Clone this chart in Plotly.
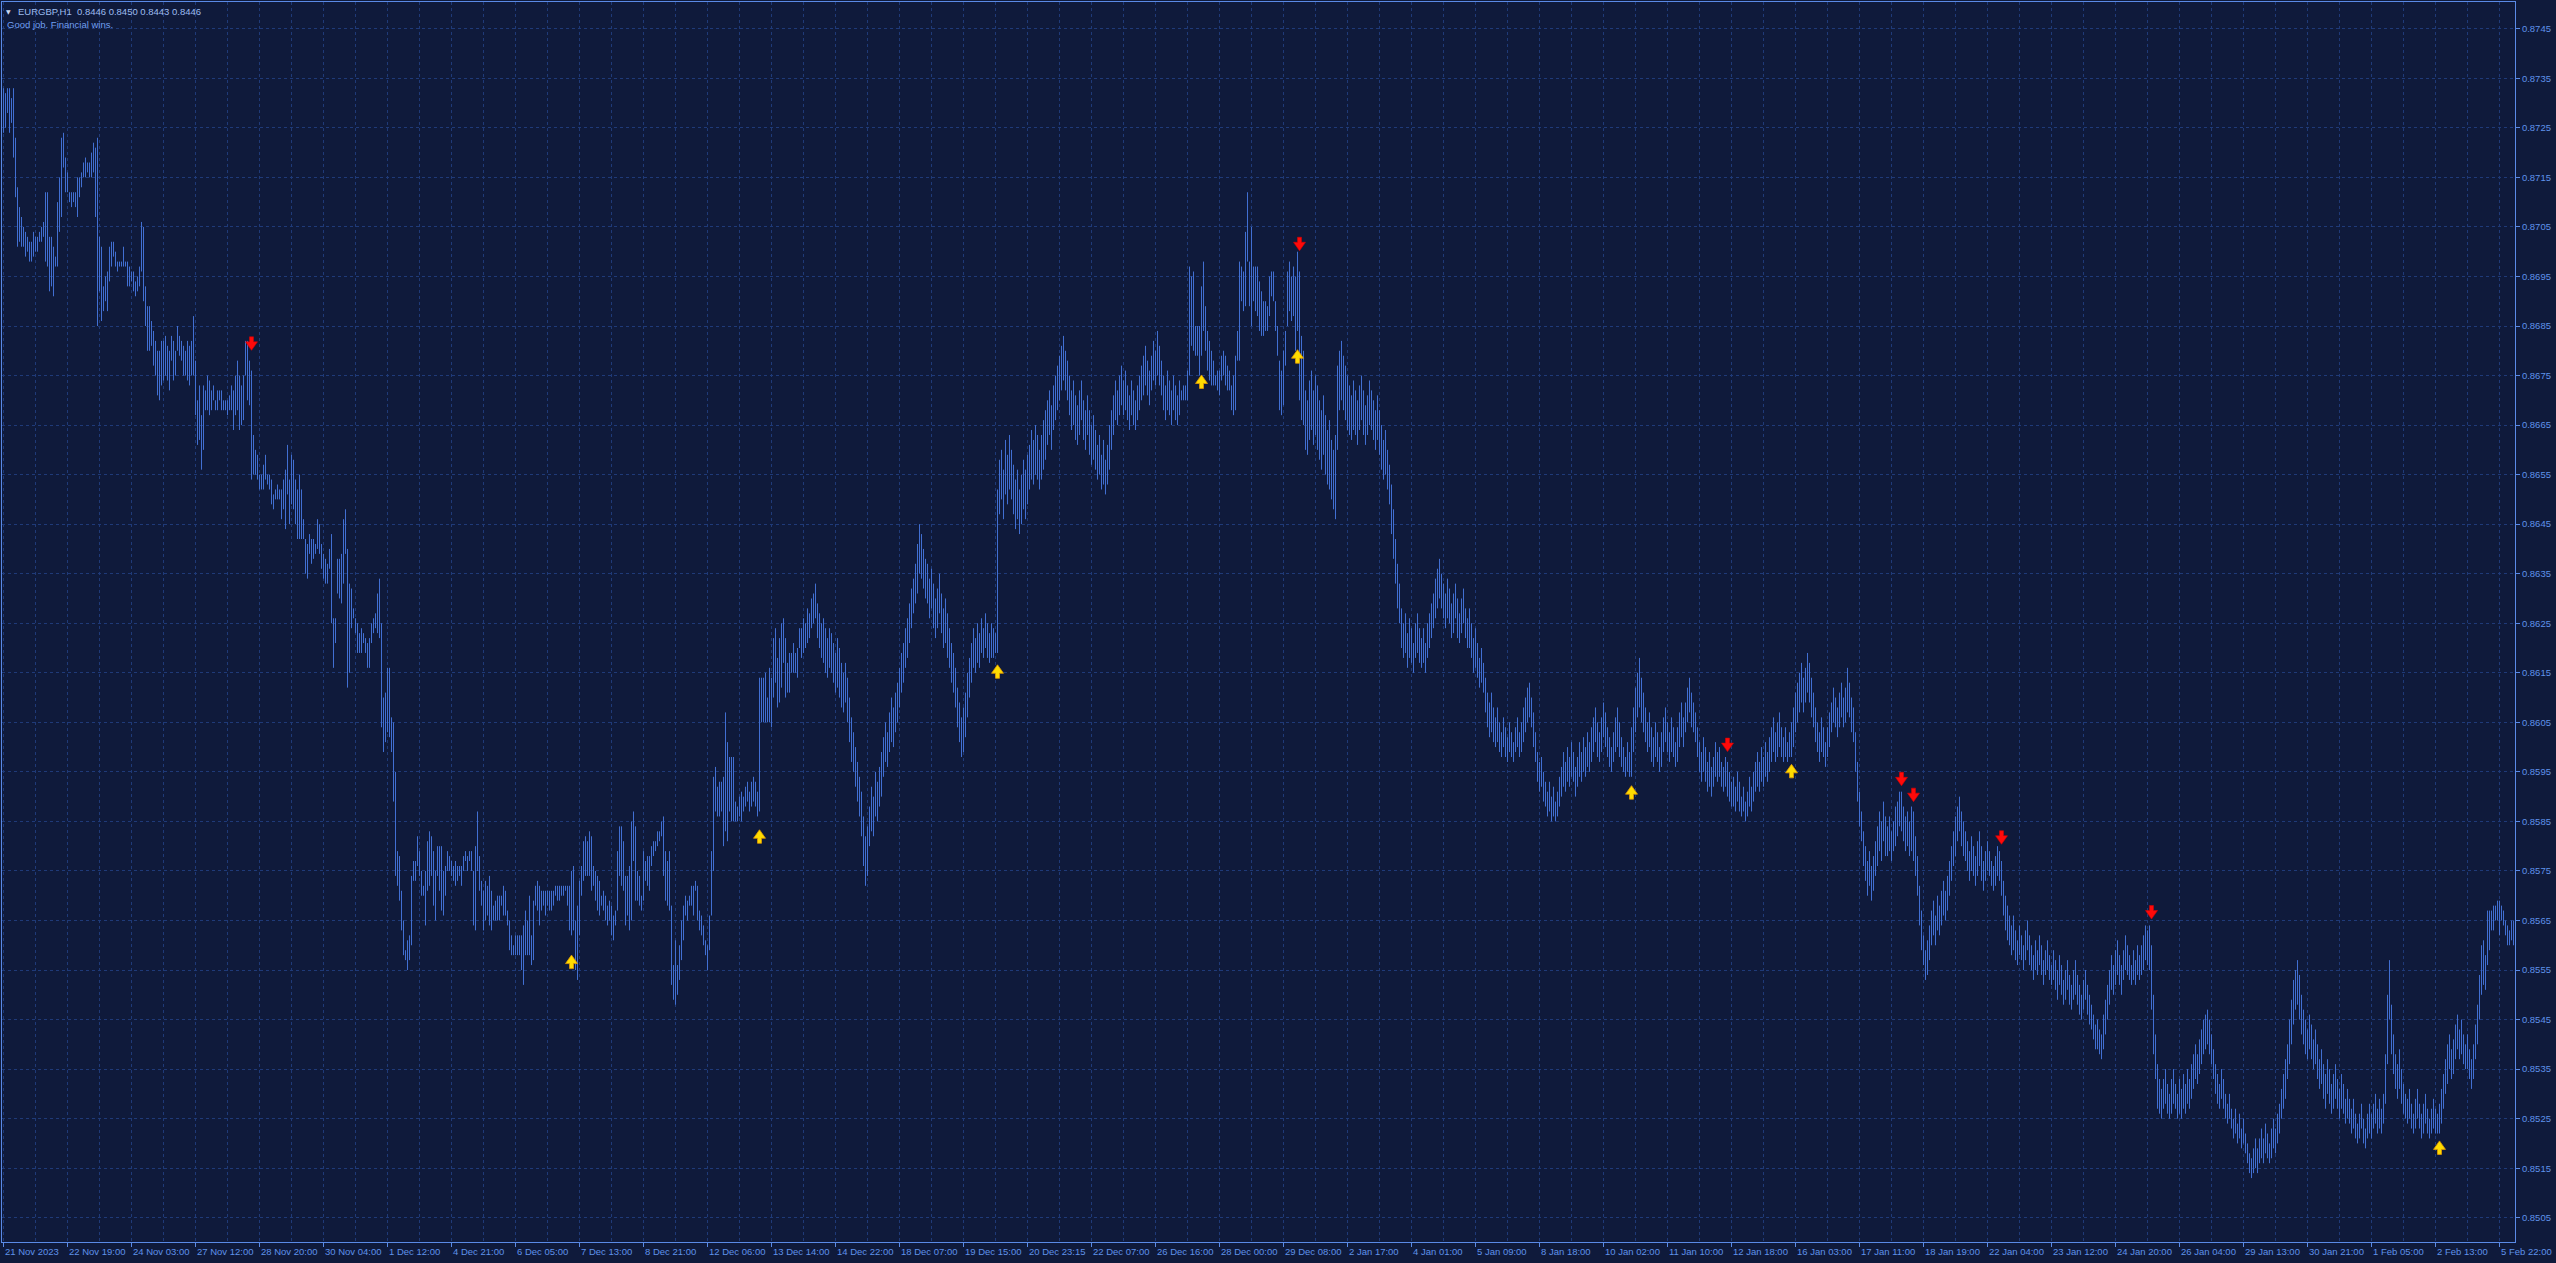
import plotly.graph_objects as go

BASE = 0.85  # prices below are in points (0.0001) above 0.8500

# Hourly bars 0..398 (21 Nov - 12 Dec): high / low in points
high_early = [
233,232,233,233,231,233,223,213,209,207, 205,204,203,202,202,204,203,203,204,205,
206,212,212,203,203,201,199,210,215,223, 224,219,216,212,212,212,212,215,215,216,
218,219,218,218,220,222,221,223,203,201, 193,195,196,201,202,202,200,198,198,198,
201,198,198,197,196,196,194,195,197,206, 205,193,189,189,186,184,182,180,180,182,
182,183,181,180,183,182,180,185,183,182, 181,180,182,181,182,187,178,170,173,167,
173,172,175,174,172,173,170,172,172,172, 170,170,170,171,173,172,175,178,175,173,
175,182,182,178,176,163,160,159,155,155, 157,159,155,155,154,151,152,153,152,152,
154,156,161,154,159,158,154,152,155,152, 146,142,141,143,142,142,141,146,145,141,
139,138,137,140,143,126,126,138,138,139, 146,148,140,133,132,128,126,125,123,124,
123,122,121,122,125,126,127,131,134,125, 110,111,116,116,106,105,95,79,78,71,
65,59,61,62,74,77,77,82,79,75, 72,75,81,83,82,79,75,80,80,80,
75,76,79,78,77,76,77,76,76,76, 78,79,78,79,79,75,80,87,78,73,
71,73,72,74,71,68,69,70,70,70, 72,71,67,65,62,60,62,62,62,62,
64,67,65,70,62,69,72,73,72,71, 71,71,71,71,71,71,72,72,72,72,
72,72,72,72,75,76,65,68,73,76, 81,82,81,83,82,76,75,74,73,70,
71,70,68,69,68,66,67,79,84,84, 81,74,74,76,85,87,84,75,74,70,
79,77,78,78,80,81,81,83,83,85, 86,79,77,79,68,56,61,56,60,65,
68,70,69,70,72,72,73,72,67,66, 64,61,60,66,79,94,96,92,93,93,
94,107,101,98,98,98,89,88,90,91, 90,92,93,91,93,94,93,91,114,114,
114,115,110,116,114,122,124,118,122,125, 126,122,117,119,119,121,119,120,124,
]
low_early = [
224,225,228,224,226,219,211,201,202,201, 201,199,200,198,198,199,200,200,202,202,
203,198,197,192,193,191,197,197,204,207, 217,212,212,210,209,210,209,207,211,213,
215,215,216,215,215,216,207,185,192,186, 188,190,188,194,197,199,197,196,197,197,
197,197,193,193,194,192,191,192,193,196, 190,185,180,180,181,177,175,171,170,173,
174,175,174,172,178,174,175,180,179,178, 175,175,174,173,175,175,167,161,162,156,
160,168,168,167,168,170,168,168,170,168, 168,168,167,168,168,164,167,168,164,165,
166,175,170,169,154,155,155,154,152,152, 152,154,153,152,149,148,150,150,150,146,
148,144,151,145,149,148,145,142,142,142, 142,135,134,139,137,138,139,140,139,136,
134,133,133,136,125,116,121,131,130,129, 133,139,112,115,124,126,123,119,119,119,
121,119,116,116,121,123,124,123,122,104, 99,101,103,102,99,89,74,72,69,63,
58,57,55,57,60,73,73,76,74,70, 70,64,71,72,74,68,65,74,71,67,
66,70,75,75,74,73,72,73,74,72, 75,77,75,77,75,64,63,75,71,68,
63,65,66,64,63,65,65,65,65,68, 66,66,64,59,58,58,58,58,58,55,
52,58,58,58,56,57,68,67,64,67, 68,66,68,67,67,68,70,69,69,70,
70,71,68,63,62,63,55,53,62,70, 73,74,74,74,71,72,69,67,66,68,
67,65,64,65,62,61,64,67,74,72, 71,64,66,63,65,77,69,69,68,67,
69,73,72,71,76,78,79,80,81,82, 74,69,68,67,52,49,48,50,53,57,
61,66,65,68,68,66,71,65,63,62, 60,58,55,59,66,75,87,86,86,87,
80,83,81,87,85,85,85,85,86,85, 87,88,89,87,88,89,88,86,87,105,
105,105,105,105,104,110,113,108,109,112, 117,110,111,111,115,115,115,114,120,
]

# Hourly bars 399..1255 (12 Dec - 5 Feb): (high, low) in points
hl_late = [
(124,118),(126,119),(125,120),(128,121),(127,122),(130,124),(131,125),(133,126),
(129,122),(127,120),(125,118),(126,117),(124,115),(122,114),(124,116),(123,115),
(121,113),(119,111),(122,112),(120,110),(117,108),(115,107),(117,109),(114,105),
(110,101),(106,97),(103,95),(100,92),(97,89),(94,86),(91,82),
(86,76),(82,72),(84,74),
(88,80),(92,83),(90,82),(95,86),(93,85),(96,88),(99,90),
(102,94),(105,97),(103,96),(107,99),(110,101),(108,100),(111,103),(113,105),
(116,108),(119,111),(121,113),(124,116),(126,118),
(129,121),(132,124),(134,127),(137,129),(141,131),
(145,135),(143,134),(140,132),(138,130),
(137,129),(134,126),(136,128),(133,124),(130,122),(132,124),(135,127),(131,123),(128,120),
(130,121),(127,118),(124,116),(121,113),(119,111),(116,108),
(112,104),(109,101),(106,98),(108,99),(111,102),
(115,106),(118,110),(121,113),(124,116),(122,115),(125,117),(123,116),
(126,119),(124,118),(127,120),(125,118),(123,117),(125,118),
(124,118),(123,119),
(152,119),
(158,147),(160,150),(156,146),(162,151),(159,149),(163,152),(160,150),
(157,147),(154,144),(156,146),(152,143),(155,145),(158,148),(156,146),(159,149),
(161,152),(164,154),(162,153),(165,155),(163,154),(160,152),(163,154),(166,156),
(168,158),(170,161),(172,163),(169,160),(173,164),(175,166),(177,168),(179,170),
(181,172),(183,174),(180,172),(178,170),
(175,167),(172,164),(174,165),(171,162),(169,161),(172,163),(174,166),(170,162),(168,160),(171,163),(168,159),(165,157),(167,158),
(164,156),(161,154),(163,155),(159,152),(162,153),(158,151),(161,153),(165,156),
(168,160),(171,163),(174,166),(172,165),(175,167),(177,169),(174,167),(176,168),
(173,166),(171,164),(174,167),(172,165),(170,164),(173,166),(175,168),(177,170),
(179,171),(181,173),(178,171),(176,169),(179,172),(182,174),(180,173),(184,175),(181,173),(178,171),
(175,168),(173,166),(176,168),(174,167),(172,165),(175,168),(173,166),(171,165),(174,167),
(172,170),(173,170),(173,170),(176,170),(197,175),(195,181),(196,180),(185,179),(185,179),(185,175),
(193,179),(198,184),(189,180),(184,176),(182,174),(180,173),(178,173),(175,173),(176,172),(176,171),
(179,174),(180,175),(179,173),(177,172),(176,172),(173,168),(175,167),(179,168),
(184,178),(198,178),(197,190),(196,188),(204,189),(212,198),(198,189),(205,185),(197,190),(197,188),
(197,187),(194,184),(192,183),(190,183),(190,184),(189,184),(195,187),(196,191),(196,190),(190,184),
(185,179),(178,168),(176,167),(180,169),(184,177),(196,185),(198,188),(195,186),(197,187),(195,180),
(200,184),(196,170),(183,166),(180,165),
(172,160),(170,159),(174,162),(176,164),(172,161),(175,163),(173,160),(170,158),(168,156),(171,159),
(167,155),(164,153),(166,152),(162,150),(160,148),(163,146),(177,160),(180,168),(182,170),(179,168),
(177,166),(175,164),
(173,163),(171,162),(174,164),(172,163),(170,161),(173,164),(175,166),(172,163),(169,161),(171,163),(174,165),(172,164),(170,162),(168,160),(171,162),
(168,159),(165,156),(162,154),(164,155),(160,152),(157,149),
(153,143),(148,138),(142,133),(137,128),(133,125),
(128,120),(125,118),(127,119),(123,116),(126,118),(124,117),(121,115),(125,118),(127,119),(124,117),
(122,116),(124,117),(121,115),(125,118),(127,120),(129,122),
(131,124),(134,126),(136,128),(138,130),(135,128),(133,126),
(131,124),(134,126),(132,125),(129,122),(131,123),(133,126),(130,122),(127,121),(130,123),(132,125),(128,122),(126,120),
(128,120),(125,118),(122,115),(124,116),(121,114),(118,112),(120,113),(117,111),
(114,107),(111,104),(109,102),(111,103),(108,101),(106,100),(108,101),
(105,99),(103,98),(106,100),(104,98),(102,97),(105,99),(103,98),(101,97),(104,99),(106,100),(103,98),(105,99),(108,101),
(110,103),(112,105),(113,106),(110,104),(107,100),(103,97),
(99,93),(97,91),(98,92),(95,89),(93,88),
(91,86),(93,87),(90,85),(92,86),(89,85),(91,86),(94,88),
(96,90),(99,92),(97,91),(100,93),(98,92),(101,94),(99,93),(96,90),(98,92),(101,94),(99,93),(102,95),(100,94),(103,96),(101,95),
(104,97),(106,99),(108,101),(105,98),(103,97),(106,99),(109,102),(107,100),(104,98),(102,96),(100,95),(103,97),
(106,99),(108,100),(105,98),(102,96),(100,95),(98,94),(101,95),(99,94),(104,94),
(108,99),(112,103),(115,106),(118,108),(114,105),(111,103),
(108,101),(105,99),(107,100),(104,97),(102,96),(105,98),(103,97),(100,95),(103,96),(106,99),
(108,101),(105,99),(103,97),(106,99),(104,98),(101,96),(104,97),(107,100),(109,102),(106,100),
(109,103),(112,105),(114,107),(111,104),(109,103),(107,101),
(104,98),(101,95),(99,93),(102,95),(100,93),(97,91),(99,92),(96,90),(98,92),(101,94),(99,93),(100,94),
(97,92),(96,91),(98,92),(97,90),(95,89),(93,88),
(94,88),(92,87),(95,89),(93,87),(90,86),(92,87),(89,85),(91,86),(94,88),(92,87),(95,89),
(97,91),(99,92),(97,91),(100,93),(98,92),(101,94),(99,93),(102,95),
(104,97),(106,99),(103,97),(105,98),(107,100),(104,98),(102,97),(104,98),(101,97),(103,98),
(105,98),(108,100),(111,103),
(113,105),(115,107),(117,109),(114,107),(116,109),(119,111),(117,109),(114,106),(111,104),
(108,101),(105,99),(103,97),(106,99),(104,98),(101,96),(104,98),(107,100),
(109,103),(112,105),(110,104),(108,102),(111,104),(113,106),(110,104),
(112,105),(116,107),(113,106),(110,103),(108,101),
(103,95),(97,89),(91,84),(87,81),
(83,76),(80,73),(77,70),(79,72),(76,69),(78,71),(81,74),
(84,76),(87,79),(85,77),(89,81),(86,78),
(84,78),(86,79),(83,77),(85,79),(88,80),
(89,82),(91,84),(91,83),(88,81),(86,79),(87,80),(85,78),(88,79),(87,77),(82,74),(78,70),
(72,64),(67,59),(62,56),(59,53),(61,54),
(64,57),(67,60),(69,62),(66,60),(70,63),(68,62),(71,64),(73,66),(71,65),(74,67),
(77,70),(80,73),(83,76),(86,78),(88,81),(90,83),(87,80),(85,78),(83,77),
(81,75),(79,73),(82,75),(80,74),(78,72),(81,74),(83,76),(80,73),(77,71),(79,73),(81,75),(79,74),
(77,72),(76,71),(78,72),(80,74),(79,73),(77,70),
(73,66),(70,63),(68,61),(66,60),(64,58),(66,59),
(63,57),(61,56),(64,58),(62,57),(60,55),(63,57),(65,59),(62,56),
(60,55),(58,53),(61,55),(59,54),(62,56),(60,54),(57,52),(59,54),(61,55),(58,53),(56,52),(59,53),
(57,51),(55,49),(58,52),(56,50),(53,48),(55,49),(57,51),(54,48),(52,47),
(55,49),(57,50),(54,48),(52,46),(50,45),(53,47),(55,49),(52,46),(50,44),(48,43),(46,41),(44,39),
(45,39),(43,38),(42,37),(46,39),(49,42),(52,45),
(55,48),(58,51),(56,50),(59,52),(61,54),(58,52),(56,50),(59,53),(62,55),(60,54),
(58,53),(56,52),(59,53),(57,52),(60,54),(58,53),
(60,54),(62,55),(64,57),(63,56),(64,55),(60,47),(50,38),(42,33),(36,27),
(33,26),(31,25),(33,27),(35,28),(32,26),(30,25),(33,26),(35,28),(32,27),(30,25),(33,26),(31,25),(34,27),(32,26),(35,28),(33,27),(36,29),(38,31),
(40,33),(38,32),(41,34),(43,36),(45,38),
(46,39),(47,40),(45,38),(42,36),(39,33),
(36,30),(34,28),(32,27),(35,29),(33,27),(30,25),(28,24),(30,25),
(27,23),(25,21),(27,22),(24,20),(26,21),(23,19),(25,20),(22,18),(20,16),
(18,14),(17,13),(19,14),(21,15),(19,14),
(21,16),(23,17),(21,16),(24,18),(22,17),(20,16),(23,17),(25,19),(23,18),(26,20),(28,22),
(31,25),(34,27),(37,29),(40,33),(45,36),
(49,40),(53,44),(55,47),(57,48),(54,45),
(50,42),(47,40),(45,38),(43,37),(46,39),(44,37),(41,35),(43,36),
(40,33),(37,31),(39,32),(36,29),(34,27),(37,30),(35,28),(32,26),
(34,27),(36,29),(33,27),(31,25),(34,27),(32,26),(29,24),(31,25),
(29,24),(27,22),(29,23),(26,21),(24,20),(26,21),(28,23),(25,20),(23,19),(26,21),(28,22),(26,21),
(28,23),(30,24),(27,22),(29,23),(27,22),(30,24),
(38,28),(50,36),(57,45),(48,38),
(42,34),(38,31),(36,29),(39,31),(35,28),(32,26),(30,25),
(29,24),(31,25),(28,23),(26,22),(29,23),(31,25),(28,23),(26,21),(28,22),(30,24),(27,22),(25,21),
(27,22),(29,23),(27,22),(26,22),(28,22),(31,24),
(34,27),(37,30),(40,32),(42,35),(39,33),(41,34),
(44,37),(46,39),(43,37),(45,38),(42,36),(40,35),
(42,35),(39,33),(37,31),(40,33),(44,37),(48,40),(54,45),
(60,50),(61,52),(58,51),(67,56),(67,59),(67,63),(68,63),(68,65),(69,65),(69,62),(68,65),(67,64),(65,62),(64,60),(63,60),(65,61),(65,60),
]

date_labels = [
    "21 Nov 2023", "22 Nov 19:00", "24 Nov 03:00", "27 Nov 12:00", "28 Nov 20:00",
    "30 Nov 04:00", "1 Dec 12:00", "4 Dec 21:00", "6 Dec 05:00", "7 Dec 13:00",
    "8 Dec 21:00", "12 Dec 06:00", "13 Dec 14:00", "14 Dec 22:00", "18 Dec 07:00",
    "19 Dec 15:00", "20 Dec 23:15", "22 Dec 07:00", "26 Dec 16:00", "28 Dec 00:00",
    "29 Dec 08:00", "2 Jan 17:00", "4 Jan 01:00", "5 Jan 09:00", "8 Jan 18:00",
    "10 Jan 02:00", "11 Jan 10:00", "12 Jan 18:00", "16 Jan 03:00", "17 Jan 11:00",
    "18 Jan 19:00", "22 Jan 04:00", "23 Jan 12:00", "24 Jan 20:00", "26 Jan 04:00",
    "29 Jan 13:00", "30 Jan 21:00", "1 Feb 05:00", "2 Feb 13:00", "5 Feb 22:00",
]
LABEL_STEP = 32  # bars between time labels
GRID_STEP = 16   # bars between vertical grid lines
TOTAL_BARS = 1256

price_ticks = [0.8505 + 0.001 * k for k in range(25)]

# signal arrows: bar index and arrow-centre price (points)
sell_bars = [124, 648, 862, 949, 955, 999, 1074]
sell_pts = [181.4, 201.5, 100.4, 93.5, 90.3, 81.7, 66.6]
buy_bars = [284, 378, 497, 599, 647, 814, 894, 1218]
buy_pts = [56.7, 82.0, 115.3, 173.8, 178.9, 90.9, 95.2, 19.2]

BG = "#0f1a3b"
GRID = "#1f3a78"
BAR = "#416fd2"
AXIS = "#5a8ae6"
TXT = "#5f92ea"
FONT = "Liberation Sans, Arial, sans-serif"

Y_RANGE = [0.85001, 0.87504]
PLOT_W, PLOT_H = 2513, 1240
X_RANGE = [-0.75, TOTAL_BARS - 0.25]

highs = high_early + [h for h, _ in hl_late]
lows = low_early + [l for _, l in hl_late]

xs, ys = [], []
for i, (h, l) in enumerate(zip(highs, lows)):
    xs += [i, i, None]
    ys += [BASE + l / 1e4, BASE + h / 1e4, None]

# arrow outline in screen pixels (pointing down; y up positive)
ARROW_DOWN = [(-2, 7), (2, 7), (2, 2), (6, 2), (0, -6.5), (-6, 2), (-2, 2)]
bar_per_px = (X_RANGE[1] - X_RANGE[0]) / PLOT_W
price_per_px = (Y_RANGE[1] - Y_RANGE[0]) / PLOT_H


def arrow_paths(bars, pts, up):
    ax, ay = [], []
    for b, p in zip(bars, pts):
        cy = BASE + p / 1e4
        for dx, dy in ARROW_DOWN + [ARROW_DOWN[0]]:
            ax.append(b + dx * bar_per_px)
            ay.append(cy + (-dy if up else dy) * price_per_px)
        ax.append(None)
        ay.append(None)
    return ax, ay


fig = go.Figure()
fig.add_trace(go.Scatter(x=xs, y=ys, mode="lines", line=dict(color=BAR, width=1),
                         hoverinfo="skip", showlegend=False))
sx, sy = arrow_paths(sell_bars, sell_pts, up=False)
fig.add_trace(go.Scatter(x=sx, y=sy, mode="lines", fill="toself", fillcolor="#ff0a0a",
                         line=dict(color="#d80000", width=0.6), hoverinfo="skip", showlegend=False))
bx, by = arrow_paths(buy_bars, buy_pts, up=True)
fig.add_trace(go.Scatter(x=bx, y=by, mode="lines", fill="toself", fillcolor="#ffdc00",
                         line=dict(color="#e39a00", width=0.8), hoverinfo="skip", showlegend=False))

annotations = []
for k, lab in enumerate(date_labels):
    annotations.append(dict(x=k * LABEL_STEP, y=0, xref="x", yref="paper", text=lab,
                            showarrow=False, xanchor="left", yanchor="top", xshift=-1, yshift=-2,
                            font=dict(family=FONT, size=9.5, color=TXT)))
annotations.append(dict(x=0, y=1, xref="paper", yref="paper", text="▼", showarrow=False,
                        xanchor="left", yanchor="middle", xshift=2, yshift=-9,
                        font=dict(family="DejaVu Sans", size=6, color="#c9d8f2")))
annotations.append(dict(x=0, y=1, xref="paper", yref="paper",
                        text="EURGBP,H1  0.8446 0.8450 0.8443 0.8446", showarrow=False,
                        xanchor="left", yanchor="middle", xshift=14, yshift=-9,
                        font=dict(family=FONT, size=9.5, color="#9dbcf0")))
annotations.append(dict(x=0, y=1, xref="paper", yref="paper",
                        text="Good job. Financial wins.", showarrow=False,
                        xanchor="left", yanchor="middle", xshift=3, yshift=-22,
                        font=dict(family=FONT, size=9.5, color="#6f9ff0")))

fig.update_layout(
    width=2556, height=1263,
    margin=dict(l=2, r=41, t=2, b=21),
    paper_bgcolor=BG, plot_bgcolor=BG,
    showlegend=False,
    annotations=annotations,
    xaxis=dict(range=X_RANGE, tick0=0, dtick=GRID_STEP, showticklabels=False,
               ticks="", showgrid=True, gridcolor=GRID, griddash="3px,3px", gridwidth=1,
               zeroline=False, showline=True, mirror=True, linecolor=AXIS, linewidth=1),
    xaxis2=dict(overlaying="x", matches="x", side="bottom",
                tickvals=[k * LABEL_STEP for k in range(len(date_labels))],
                showticklabels=False, ticks="outside", ticklen=4, tickcolor=AXIS,
                showgrid=False, zeroline=False, showline=False),
    yaxis=dict(range=Y_RANGE, side="right", tickvals=price_ticks,
               ticktext=[f"{v:.4f}" for v in price_ticks], ticks="outside", ticklen=4,
               tickcolor=AXIS, tickfont=dict(family=FONT, size=9.5, color=TXT),
               showgrid=True, gridcolor=GRID, griddash="3px,3px", gridwidth=1,
               zeroline=False, showline=True, mirror=True, linecolor=AXIS, linewidth=1),
)
fig.add_trace(go.Scatter(x=[0], y=[None], xaxis="x2", showlegend=False, hoverinfo="skip"))

fig.write_html("out.html", config={"displayModeBar": False},
               post_script="document.body.style.margin='0';document.body.style.overflow='hidden';")
